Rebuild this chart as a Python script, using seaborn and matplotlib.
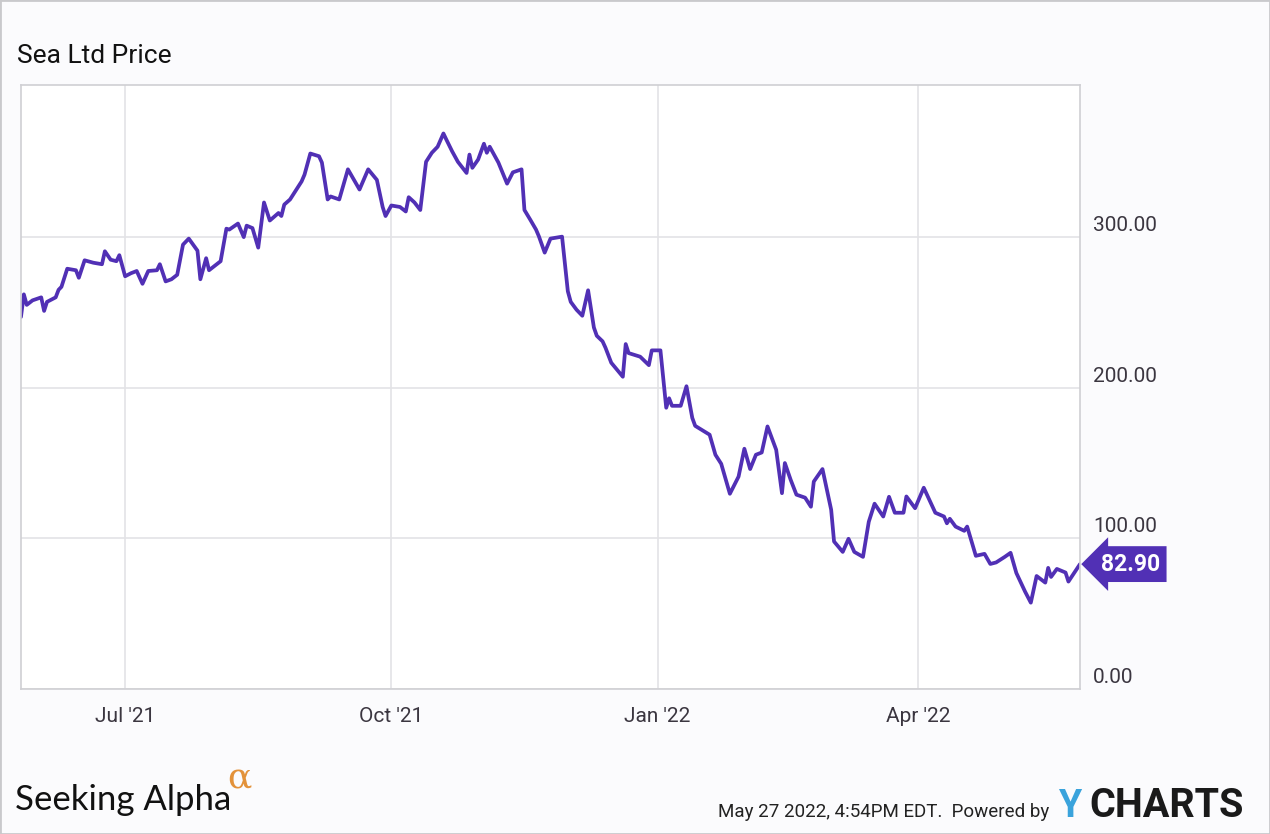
import pandas as pd
import seaborn as sns
import matplotlib.dates as mdates
from matplotlib import pyplot as plt
from matplotlib.patches import Rectangle

# price readings (approx) taken off the chart
dates = [
    "2021-05-26", "2021-05-27", "2021-05-28", "2021-05-30", "2021-06-02", "2021-06-03",
    "2021-06-04", "2021-06-07", "2021-06-08", "2021-06-09", "2021-06-11", "2021-06-14",
    "2021-06-15", "2021-06-17", "2021-06-20", "2021-06-23", "2021-06-24", "2021-06-26",
    "2021-06-28", "2021-06-29", "2021-07-01", "2021-07-03", "2021-07-05", "2021-07-07",
    "2021-07-09", "2021-07-12", "2021-07-13", "2021-07-15", "2021-07-17", "2021-07-19",
    "2021-07-21", "2021-07-23", "2021-07-26", "2021-07-27", "2021-07-29", "2021-07-30",
    "2021-08-03", "2021-08-05", "2021-08-06", "2021-08-09", "2021-08-11", "2021-08-12",
    "2021-08-14", "2021-08-16", "2021-08-18", "2021-08-20", "2021-08-23", "2021-08-24",
    "2021-08-25", "2021-08-27", "2021-08-31", "2021-09-01", "2021-09-03", "2021-09-06",
    "2021-09-07", "2021-09-09", "2021-09-10", "2021-09-13", "2021-09-16", "2021-09-20",
    "2021-09-23", "2021-09-26", "2021-09-28", "2021-09-29", "2021-10-01", "2021-10-04",
    "2021-10-06", "2021-10-07", "2021-10-09", "2021-10-11", "2021-10-13", "2021-10-15",
    "2021-10-17", "2021-10-19", "2021-10-20", "2021-10-22", "2021-10-24", "2021-10-27",
    "2021-10-28", "2021-10-29", "2021-10-31", "2021-11-02", "2021-11-03", "2021-11-04",
    "2021-11-07", "2021-11-10", "2021-11-12", "2021-11-15", "2021-11-16", "2021-11-18",
    "2021-11-20", "2021-11-21", "2021-11-23", "2021-11-25", "2021-11-29", "2021-12-01",
    "2021-12-02", "2021-12-04", "2021-12-06", "2021-12-08", "2021-12-10", "2021-12-11",
    "2021-12-13", "2021-12-14", "2021-12-16", "2021-12-20", "2021-12-21", "2021-12-22",
    "2021-12-26", "2021-12-29", "2021-12-30", "2022-01-02", "2022-01-04", "2022-01-05",
    "2022-01-06", "2022-01-09", "2022-01-11", "2022-01-13", "2022-01-14", "2022-01-18",
    "2022-01-19", "2022-01-21", "2022-01-23", "2022-01-26", "2022-01-29", "2022-01-31",
    "2022-02-02", "2022-02-04", "2022-02-06", "2022-02-08", "2022-02-11", "2022-02-13",
    "2022-02-14", "2022-02-16", "2022-02-18", "2022-02-21", "2022-02-23", "2022-02-24",
    "2022-02-27", "2022-03-02", "2022-03-03", "2022-03-06", "2022-03-08", "2022-03-10",
    "2022-03-13", "2022-03-15", "2022-03-17", "2022-03-20", "2022-03-22", "2022-03-24",
    "2022-03-27", "2022-03-28", "2022-03-31", "2022-04-03", "2022-04-07", "2022-04-10",
    "2022-04-11", "2022-04-12", "2022-04-14", "2022-04-17", "2022-04-18", "2022-04-21",
    "2022-04-24", "2022-04-26", "2022-04-28", "2022-05-01", "2022-05-03", "2022-05-05",
    "2022-05-08", "2022-05-10", "2022-05-12", "2022-05-15", "2022-05-16", "2022-05-17",
    "2022-05-19", "2022-05-22", "2022-05-23", "2022-05-27",
]
prices = [
    247, 262, 255, 258, 260, 251,
    257, 260, 265, 267, 279, 278,
    273, 284.6, 283, 282, 290.6, 285,
    284, 288, 274, 276, 277.5, 269,
    277.5, 278, 282, 270.6, 272, 275,
    295, 299, 291, 272, 286, 278,
    284, 305.6, 305, 309, 300, 307.6,
    306, 293, 323, 311, 316, 314,
    321.6, 325, 337, 341.5, 355.5, 353.7,
    349.5, 325, 327, 325, 345, 331.6,
    345, 338, 320, 314, 321, 320,
    317, 326.5, 323, 318, 350, 356,
    360, 368.8, 364.8, 357, 350, 342.6,
    354.8, 346, 351.5, 362, 356, 360,
    349.5, 335.5, 343, 345, 318, 311.6,
    305, 300.5, 289.7, 299, 300.3, 264,
    257, 251.8, 247.8, 264.7, 240, 234.5,
    230.8, 226.6, 216.6, 207.3, 229, 223,
    220.6, 215, 224.8, 224.8, 186.7, 193,
    188, 188, 201, 180, 174.7, 170,
    168.8, 155.5, 149.5, 129.6, 141, 159.5,
    146, 155.5, 157, 174.3, 158.8, 130,
    150, 138.9, 129, 127, 121, 137.7,
    146, 119, 97.9, 91, 99.7, 91,
    87.7, 111, 123, 114.5, 127.6, 117,
    117, 127.8, 120, 133.6, 117, 114.5,
    110, 113, 107.8, 105, 107.8, 88.4,
    89.7, 83, 84, 87.7, 90.4, 77,
    64.7, 57.3, 75, 70.6, 80.4, 74.4,
    79.7, 77.3, 71.3, 82.9,
]
y_ticks = [0, 100, 200, 300]
last_price = 82.90

df = pd.DataFrame({"Date": pd.to_datetime(dates), "Price": prices})

purple = "#5130b5"
grid_c = "#e3e3e6"

sns.set_style("white")
plt.rcParams["font.family"] = ["Roboto", "DejaVu Sans"]

fig = plt.figure(figsize=(12.7, 8.34), dpi=100, facecolor="#fbfbfd")
ax = fig.add_axes([0.0165, 0.1739, 0.8339, 0.7242])
ax.set_facecolor("white")

sns.lineplot(data=df, x="Date", y="Price", color=purple, linewidth=2.7, ax=ax)

ax.set_xlim(pd.Timestamp("2021-05-26"), pd.Timestamp("2022-05-27"))
ax.set_ylim(0, 401)
ax.set_xlabel("")
ax.set_ylabel("")

ax.xaxis.set_major_locator(mdates.MonthLocator(bymonth=[1, 4, 7, 10]))
ax.xaxis.set_major_formatter(mdates.DateFormatter("%b '%y"))
ax.tick_params(axis="x", length=0, pad=13, labelsize=15, labelcolor="#3b3640")
ax.set_yticks(y_ticks)
ax.set_yticklabels([])
ax.tick_params(axis="y", length=0)
ax.grid(True, color=grid_c, linewidth=1.2)
for s in ax.spines.values():
    s.set_color("#cfcfd3")
    s.set_linewidth(1.2)

# y labels sit above their gridlines, right of the plot
for v in y_ticks:
    ax.annotate(f"{v:.2f}", xy=(1, v), xycoords=ax.get_yaxis_transform(),
                xytext=(13, 6), textcoords="offset pixels", ha="left", va="baseline",
                fontsize=15, color="#3b3640")

# last price tag
ax.annotate(f"{last_price:.2f}", xy=(1, last_price), xycoords=ax.get_yaxis_transform(),
            xytext=(21, 0), textcoords="offset pixels", ha="left", va="center",
            fontsize=16.5, fontweight="bold", color="white",
            bbox=dict(boxstyle="larrow,pad=0.28", fc=purple, ec="none"))

fig.text(0.0135, 0.924, "Sea Ltd Price", fontsize=19, color="#111111", va="baseline")

# footer
fig.text(0.012, 0.029, "Seeking Alpha", fontsize=25, family=["Lato", "DejaVu Sans"],
         color="#111111", va="baseline")
fig.text(0.179, 0.056, "\u03b1", fontsize=26, family="DejaVu Serif",
         color="#e3923a", va="baseline")
fig.text(0.565, 0.020, "May 27 2022, 4:54PM EDT.  Powered by", fontsize=13.5,
         color="#222222", va="baseline")
fig.text(0.833, 0.020, "Y", fontsize=27, fontweight="bold", color="#3aa3dc", va="baseline")
fig.text(0.858, 0.020, "CHARTS", fontsize=28.5, fontweight="bold", color="#1a1a1a",
         va="baseline")

fig.patches.append(Rectangle((0, 0), 1, 1, transform=fig.transFigure, fill=False,
                             ec="#c9c9cc", lw=2))

fig.savefig("out.png", dpi=100, facecolor=fig.get_facecolor())
